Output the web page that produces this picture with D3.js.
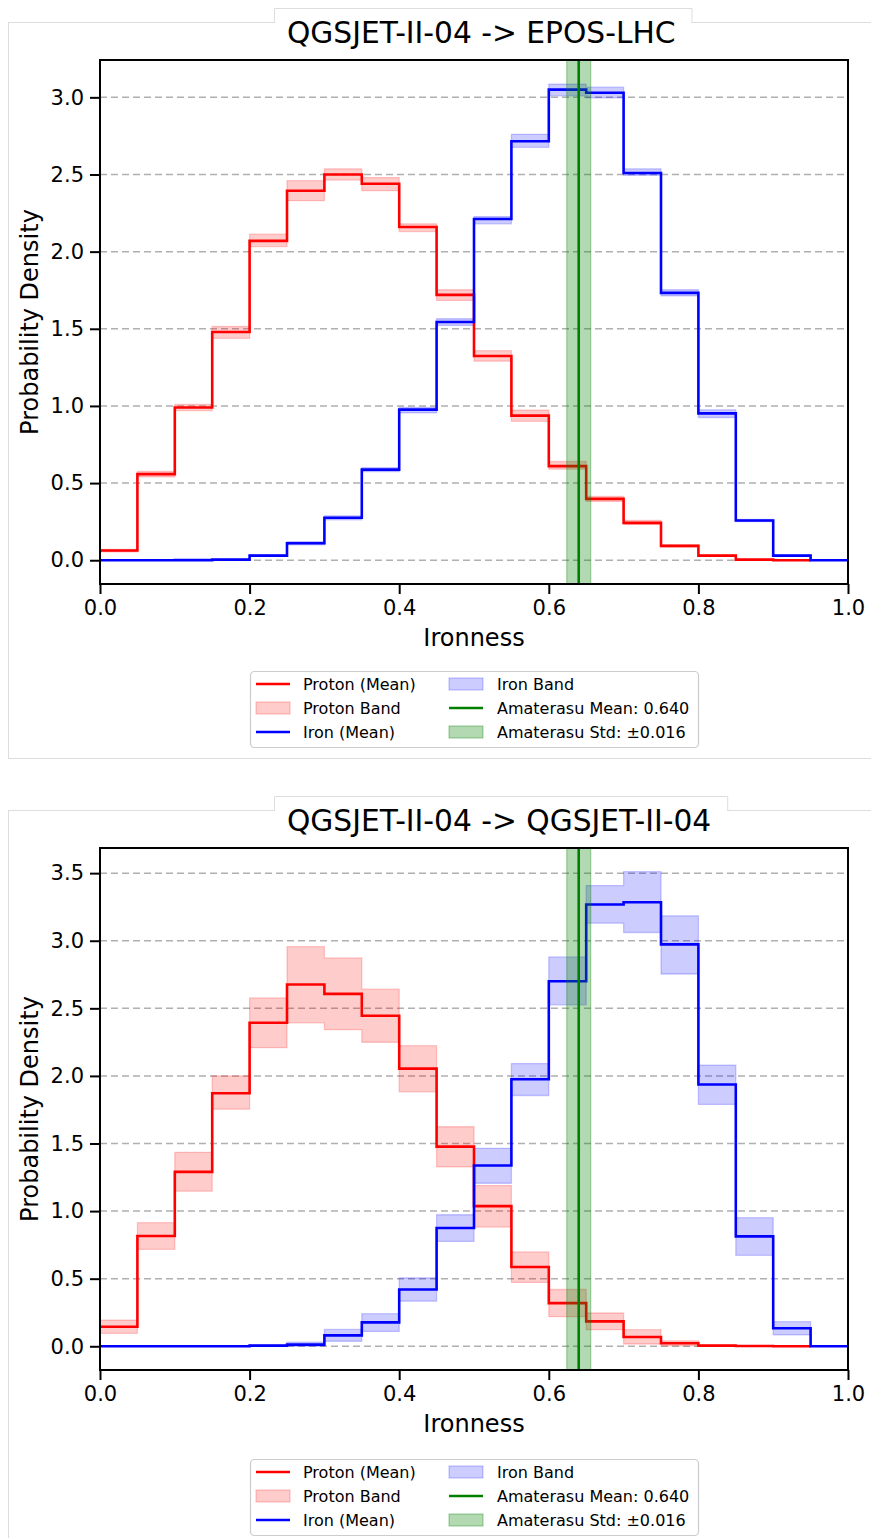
<!DOCTYPE html>
<html>
<head>
<meta charset="utf-8">
<script src="https://cdn.jsdelivr.net/npm/d3@7"></script>
<style>
  html, body { margin: 0; padding: 0; background: #fff; }
  svg { display: block; }
  text { font-family: "DejaVu Sans", sans-serif; fill: #000; }
</style>
</head>
<body>
<script>
// ---------------- DATA ----------------
const binEdges = [0.00, 0.05, 0.10, 0.15, 0.20, 0.25, 0.30, 0.35, 0.40, 0.45, 0.50,
                  0.55, 0.60, 0.65, 0.70, 0.75, 0.80, 0.85, 0.90, 0.95, 1.00];
const xTicks = [0.0, 0.2, 0.4, 0.6, 0.8, 1.0];
const yTicksA = [0.0, 0.5, 1.0, 1.5, 2.0, 2.5, 3.0];
const yTicksB = [0.0, 0.5, 1.0, 1.5, 2.0, 2.5, 3.0, 3.5];

const titleA = "QGSJET-II-04 -> EPOS-LHC";
const titleB = "QGSJET-II-04 -> QGSJET-II-04";

// Panel A: QGSJET-II-04 -> EPOS-LHC
const protonMeanA = [0.063, 0.558, 0.990, 1.479, 2.070, 2.395, 2.500, 2.440, 2.160, 1.720, 1.324, 0.937, 0.610, 0.398, 0.242, 0.093, 0.030, 0.004, 0.000];
const protonLoA   = [0.055, 0.540, 0.970, 1.438, 2.033, 2.330, 2.464, 2.395, 2.130, 1.684, 1.290, 0.900, 0.590, 0.381, 0.232, 0.085, 0.026, 0.003, 0.000];
const protonHiA   = [0.070, 0.575, 1.010, 1.515, 2.113, 2.460, 2.537, 2.480, 2.180, 1.753, 1.358, 0.972, 0.640, 0.413, 0.258, 0.100, 0.034, 0.006, 0.001];
const ironMeanA   = [0.000, 0.000, 0.001, 0.004, 0.030, 0.110, 0.275, 0.587, 0.976, 1.544, 2.212, 2.715, 3.050, 3.030, 2.510, 1.733, 0.952, 0.258, 0.030, 0.000];
const ironLoA     = [0.000, 0.000, 0.000, 0.002, 0.025, 0.100, 0.262, 0.575, 0.955, 1.522, 2.180, 2.676, 3.010, 2.997, 2.495, 1.714, 0.925, 0.250, 0.026, 0.000];
const ironHiA     = [0.000, 0.000, 0.002, 0.006, 0.035, 0.120, 0.288, 0.600, 0.990, 1.565, 2.227, 2.760, 3.085, 3.066, 2.537, 1.753, 0.975, 0.265, 0.034, 0.000];

// Panel B: QGSJET-II-04 -> QGSJET-II-04
const protonMeanB = [0.145, 0.816, 1.290, 1.872, 2.393, 2.676, 2.607, 2.445, 2.054, 1.477, 1.037, 0.587, 0.319, 0.184, 0.069, 0.022, 0.005, 0.002, 0.000];
const protonLoB   = [0.096, 0.717, 1.147, 1.754, 2.209, 2.393, 2.342, 2.249, 1.882, 1.327, 0.882, 0.472, 0.219, 0.123, 0.017, 0.003, 0.000, 0.000, 0.000];
const protonHiB   = [0.194, 0.914, 1.435, 2.000, 2.577, 2.956, 2.873, 2.642, 2.224, 1.624, 1.189, 0.698, 0.420, 0.246, 0.123, 0.040, 0.010, 0.004, 0.001];
const ironMeanB   = [0.000, 0.000, 0.000, 0.000, 0.005, 0.012, 0.081, 0.177, 0.420, 0.875, 1.337, 1.975, 2.700, 3.268, 3.285, 2.973, 1.936, 0.813, 0.133, 0.000];
const ironLoB     = [0.000, 0.000, 0.000, 0.000, 0.000, 0.000, 0.037, 0.110, 0.334, 0.776, 1.206, 1.855, 2.526, 3.130, 3.061, 2.754, 1.789, 0.673, 0.084, 0.000];
const ironHiB     = [0.000, 0.000, 0.000, 0.000, 0.010, 0.030, 0.125, 0.241, 0.506, 0.973, 1.464, 2.091, 2.880, 3.408, 3.511, 3.184, 2.079, 0.951, 0.182, 0.000];

const amaterasuMean = 0.640;
const amaterasuStd = 0.016;

const legendLabels = ["Proton (Mean)", "Proton Band", "Iron (Mean)",
                      "Iron Band", "Amaterasu Mean: " + amaterasuMean.toFixed(3),
                      "Amaterasu Std: \u00B1" + amaterasuStd.toFixed(3)];

// ---------------- LAYOUT ----------------
const W = 871, H = 1538;
const RED = "#ff0000", BLUE = "#0000ff", GREEN = "#008000";

const svg = d3.select("body").append("svg").attr("width", W).attr("height", H);

const panels = [
  { panelTop: 22, title: titleA, axTop: 60, axBottom: 584, yDomain: [-0.154, 3.242], yTicks: yTicksA,
    pMean: protonMeanA, pLo: protonLoA, pHi: protonHiA, iMean: ironMeanA, iLo: ironLoA, iHi: ironHiA },
  { panelTop: 810, title: titleB, axTop: 848, axBottom: 1370, yDomain: [-0.1755, 3.686], yTicks: yTicksB,
    pMean: protonMeanB, pLo: protonLoB, pHi: protonHiB, iMean: ironMeanB, iLo: ironLoB, iHi: ironHiB }
];

const axLeft = 100, axRight = 848;

function stepPoints(vals) {
  const pts = vals.map((v, i) => [binEdges[i], v]);
  pts.push([binEdges[vals.length], vals[vals.length - 1]]);
  return pts;
}
function stepBand(lo, hi) {
  const pts = lo.map((v, i) => ({ x: binEdges[i], lo: v, hi: hi[i] }));
  pts.push({ x: binEdges[lo.length], lo: lo[lo.length - 1], hi: hi[hi.length - 1] });
  return pts;
}

panels.forEach(p => {
  const g = svg.append("g");

  // panel card border
  g.append("rect")
    .attr("x", 8.5).attr("y", p.panelTop + 0.5)
    .attr("width", 900).attr("height", 736)
    .attr("fill", "none").attr("stroke", "#dddddd").attr("stroke-width", 1);

  // title tab
  const tabTop = p.panelTop - 14;
  const tabG = g.append("g");
  const titleText = tabG.append("text")
    .attr("x", 287).attr("y", p.panelTop + 21)
    .style("font-size", "29.7px")
    .text(p.title);
  const tw = titleText.node().getComputedTextLength();
  const tabW = tw + 13 + 16;
  tabG.insert("rect", "text")
    .attr("x", 274).attr("y", tabTop)
    .attr("width", tabW).attr("height", 16)
    .attr("fill", "#fff");
  tabG.insert("path", "text")
    .attr("d", `M274.5,${p.panelTop + 1}V${tabTop + 0.5}H${274.5 + tabW}V${p.panelTop + 1}`)
    .attr("fill", "none").attr("stroke", "#dddddd").attr("stroke-width", 1);

  const x = d3.scaleLinear().domain([0, 1]).range([axLeft, axRight]);
  const y = d3.scaleLinear().domain(p.yDomain).range([p.axBottom, p.axTop]);

  const clipId = "clip" + p.panelTop;
  svg.append("clipPath").attr("id", clipId).append("rect")
    .attr("x", axLeft).attr("y", p.axTop).attr("width", axRight - axLeft).attr("height", p.axBottom - p.axTop);

  const plot = g.append("g").attr("clip-path", `url(#${clipId})`);

  // horizontal grid
  plot.selectAll("line.grid").data(p.yTicks).enter().append("line")
    .attr("x1", axLeft).attr("x2", axRight)
    .attr("y1", d => y(d)).attr("y2", d => y(d))
    .attr("stroke", "#b0b0b0").attr("stroke-width", 1.5)
    .attr("stroke-dasharray", "7,4");

  const area = d3.area().curve(d3.curveStepAfter)
    .x(d => x(d.x)).y0(d => y(d.lo)).y1(d => y(d.hi));
  const line = d3.line().curve(d3.curveStepAfter)
    .x(d => x(d[0])).y(d => y(d[1]));

  // bands
  plot.append("path").datum(stepBand(p.pLo, p.pHi)).attr("d", area)
    .attr("fill", RED).attr("fill-opacity", 0.2)
    .attr("stroke", RED).attr("stroke-opacity", 0.2).attr("stroke-width", 1.3);
  plot.append("path").datum(stepBand(p.iLo, p.iHi)).attr("d", area)
    .attr("fill", BLUE).attr("fill-opacity", 0.2)
    .attr("stroke", BLUE).attr("stroke-opacity", 0.2).attr("stroke-width", 1.3);

  // mean lines
  plot.append("path").datum(stepPoints(p.pMean)).attr("d", line)
    .attr("fill", "none").attr("stroke", RED).attr("stroke-width", 2.6);
  plot.append("path").datum(stepPoints(p.iMean)).attr("d", line)
    .attr("fill", "none").attr("stroke", BLUE).attr("stroke-width", 2.6);

  // Amaterasu band and mean
  plot.append("rect")
    .attr("x", x(amaterasuMean - amaterasuStd)).attr("y", p.axTop)
    .attr("width", x(amaterasuMean + amaterasuStd) - x(amaterasuMean - amaterasuStd))
    .attr("height", p.axBottom - p.axTop)
    .attr("fill", GREEN).attr("fill-opacity", 0.3)
    .attr("stroke", GREEN).attr("stroke-opacity", 0.3).attr("stroke-width", 1.3);
  plot.append("line")
    .attr("x1", x(amaterasuMean)).attr("x2", x(amaterasuMean))
    .attr("y1", p.axTop).attr("y2", p.axBottom)
    .attr("stroke", GREEN).attr("stroke-width", 2.6);

  // axes
  const xAxis = g.append("g").attr("transform", `translate(0,${p.axBottom})`)
    .call(d3.axisBottom(x).tickValues(xTicks).tickFormat(d3.format(".1f")).tickSize(10).tickPadding(6).tickSizeOuter(0));
  const yAxis = g.append("g").attr("transform", `translate(${axLeft},0)`)
    .call(d3.axisLeft(y).tickValues(p.yTicks).tickFormat(d3.format(".1f")).tickSize(10).tickPadding(6).tickSizeOuter(0));
  [xAxis, yAxis].forEach(a => {
    a.select(".domain").remove();
    a.selectAll(".tick line").attr("stroke", "#000").attr("stroke-width", 2);
    a.selectAll(".tick text").style("font-size", "21px").style("font-family", "DejaVu Sans, sans-serif").attr("fill", "#000");
  });

  // frame
  g.append("rect")
    .attr("x", axLeft).attr("y", p.axTop)
    .attr("width", axRight - axLeft).attr("height", p.axBottom - p.axTop)
    .attr("fill", "none").attr("stroke", "#000").attr("stroke-width", 2);

  // axis labels
  g.append("text")
    .attr("x", (axLeft + axRight) / 2).attr("y", p.axBottom + 62)
    .attr("text-anchor", "middle").style("font-size", "24px")
    .text("Ironness");
  g.append("text")
    .attr("transform", `translate(38,${(p.axTop + p.axBottom) / 2}) rotate(-90)`)
    .attr("text-anchor", "middle").style("font-size", "24px")
    .text("Probability Density");

  // legend
  const lgTop = p.panelTop + 649;
  const lg = g.append("g");
  lg.append("rect")
    .attr("x", 250.5).attr("y", lgTop + 0.5)
    .attr("width", 448).attr("height", 76)
    .attr("rx", 4).attr("ry", 4)
    .attr("fill", "#fff").attr("fill-opacity", 0.8)
    .attr("stroke", "#cccccc").attr("stroke-width", 1.2);

  const rows = [lgTop + 13, lgTop + 37, lgTop + 61];
  const entries = [
    { col: 0, row: 0, type: "line", color: RED,   label: legendLabels[0] },
    { col: 0, row: 1, type: "patch", color: RED,  op: 0.2, label: legendLabels[1] },
    { col: 0, row: 2, type: "line", color: BLUE,  label: legendLabels[2] },
    { col: 1, row: 0, type: "patch", color: BLUE, op: 0.2, label: legendLabels[3] },
    { col: 1, row: 1, type: "line", color: GREEN, label: legendLabels[4] },
    { col: 1, row: 2, type: "patch", color: GREEN, op: 0.3, label: legendLabels[5] }
  ];
  const handleX = [256, 449], textX = [303, 497];
  entries.forEach(e => {
    const cy = rows[e.row], hx = handleX[e.col];
    if (e.type === "line") {
      lg.append("line").attr("x1", hx).attr("x2", hx + 34).attr("y1", cy).attr("y2", cy)
        .attr("stroke", e.color).attr("stroke-width", 2.6);
    } else {
      lg.append("rect").attr("x", hx).attr("y", cy - 6).attr("width", 34).attr("height", 12)
        .attr("fill", e.color).attr("fill-opacity", e.op)
        .attr("stroke", e.color).attr("stroke-opacity", e.op).attr("stroke-width", 1.3);
    }
    lg.append("text").attr("x", textX[e.col]).attr("y", cy + 6)
      .style("font-size", "16px").text(e.label);
  });
});
</script>
</body>
</html>
